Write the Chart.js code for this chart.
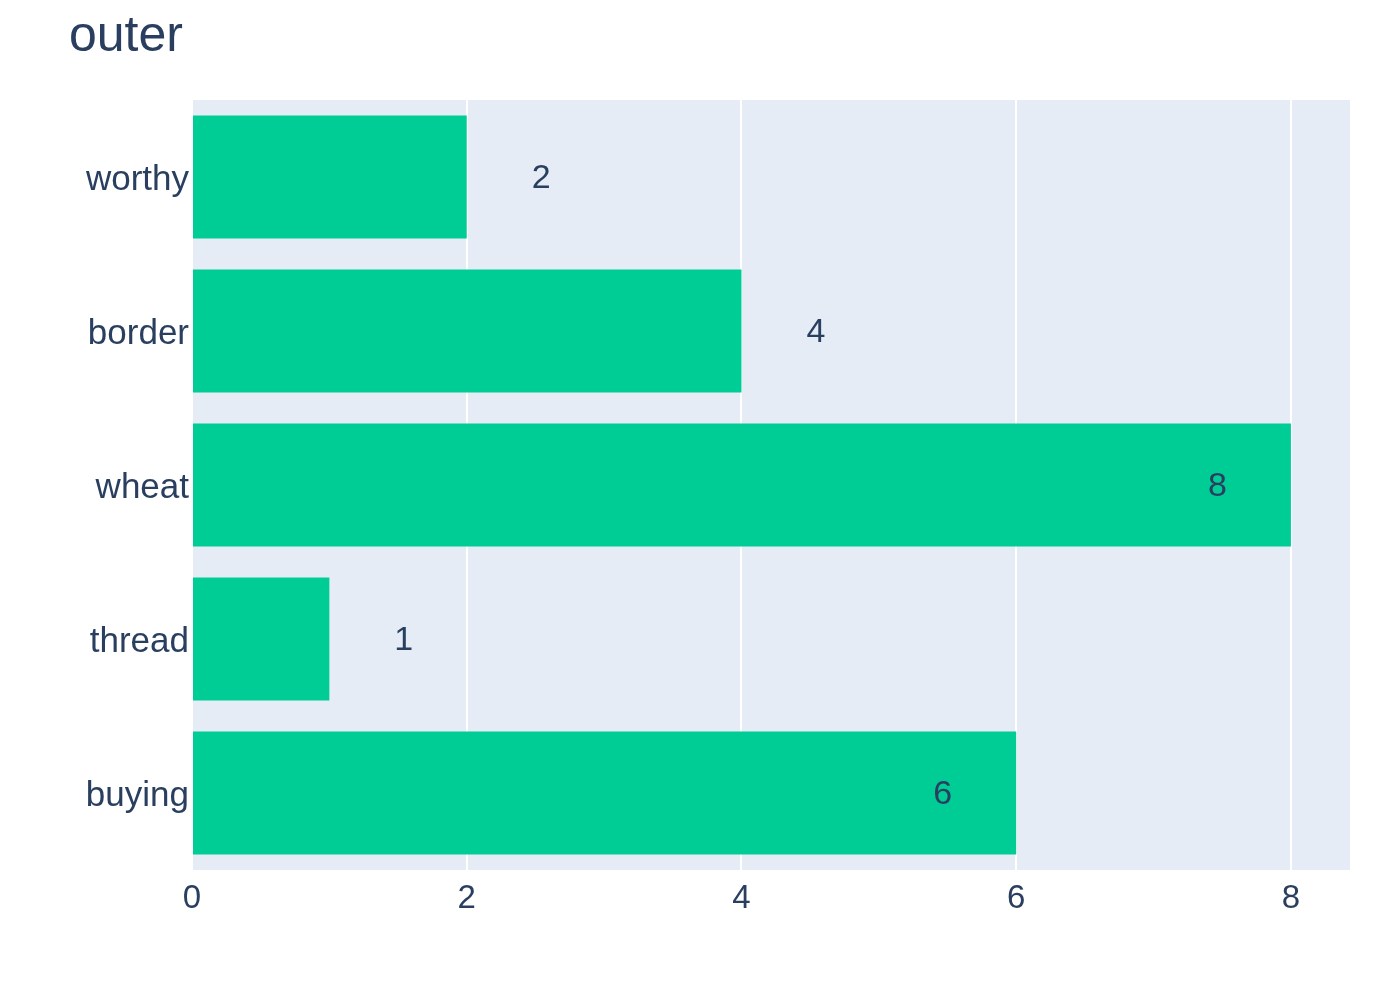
<!DOCTYPE html>
<html>
<head>
<meta charset="utf-8">
<script src="https://cdn.jsdelivr.net/npm/chart.js@4/dist/chart.umd.min.js"></script>
<style>
  body { margin: 0; background: #fff; }
  #wrap { width: 1400px; height: 1000px; }
</style>
</head>
<body>
<div id="wrap"><canvas id="barchart" width="1400" height="1000"></canvas></div>
<script>
var categories = ['worthy', 'border', 'wheat', 'thread', 'buying'];
var values = [2, 4, 8, 1, 6];
var xTicks = [0, 2, 4, 6, 8];
var chartTitle = 'outer';

var fontFamily = '"Liberation Sans", Arial, Helvetica, sans-serif';
var textColor = '#2a3f5f';

// plot background
var plotBg = {
    id: 'plotBg',
    beforeDraw: function(chart) {
        var a = chart.chartArea, ctx = chart.ctx;
        ctx.save();
        ctx.fillStyle = '#e5ecf6';
        ctx.fillRect(a.left, a.top, a.right - a.left, a.bottom - a.top);
        ctx.restore();
    }
};

// title and bar value labels
var textBits = {
    id: 'textBits',
    afterDraw: function(chart) {
        var ctx = chart.ctx;
        ctx.save();
        ctx.fillStyle = textColor;
        ctx.font = '50px ' + fontFamily;
        ctx.textAlign = 'left';
        ctx.textBaseline = 'alphabetic';
        ctx.fillText(chartTitle, 69, 51);

        var meta = chart.getDatasetMeta(0);
        ctx.font = '34px ' + fontFamily;
        ctx.textBaseline = 'middle';
        meta.data.forEach(function(bar, i) {
            var v = values[i];
            if (v > 5) {
                ctx.textAlign = 'right';
                ctx.fillText(String(v), bar.x - 64, bar.y + 2);
            } else {
                ctx.textAlign = 'left';
                ctx.fillText(String(v), bar.x + 65, bar.y + 2);
            }
        });
        ctx.restore();
    }
};

var ctx = document.getElementById('barchart');
var chart = new Chart(ctx, {
    type: 'bar',
    data: {
        labels: categories,
        datasets: [{
            data: values,
            backgroundColor: '#00cc96',
            borderWidth: 0,
            categoryPercentage: 1.0,
            barPercentage: 0.8
        }]
    },
    options: {
        indexAxis: 'y',
        responsive: false,
        animation: false,
        events: [],
        layout: { padding: { left: 0, right: 50, top: 100, bottom: 0 } },
        plugins: {
            legend: { display: false },
            tooltip: { enabled: false },
            title: { display: false }
        },
        scales: {
            x: {
                min: 0,
                max: 8.43,
                afterBuildTicks: function(scale) {
                    scale.ticks = xTicks.map(function(t) { return { value: t }; });
                },
                afterFit: function(scale) { scale.height = 130; },
                grid: { color: '#ffffff', lineWidth: 2, drawTicks: false },
                border: { display: false },
                ticks: {
                    color: textColor,
                    font: { family: fontFamily, size: 33 },
                    padding: 9,
                    maxRotation: 0
                }
            },
            y: {
                afterFit: function(scale) { scale.width = 192; },
                grid: { display: false, drawTicks: false },
                border: { display: false },
                ticks: {
                    color: textColor,
                    font: { family: fontFamily, size: 35 },
                    padding: 3,
                    labelOffset: 3
                }
            }
        }
    },
    plugins: [plotBg, textBits]
});
</script>
</body>
</html>
